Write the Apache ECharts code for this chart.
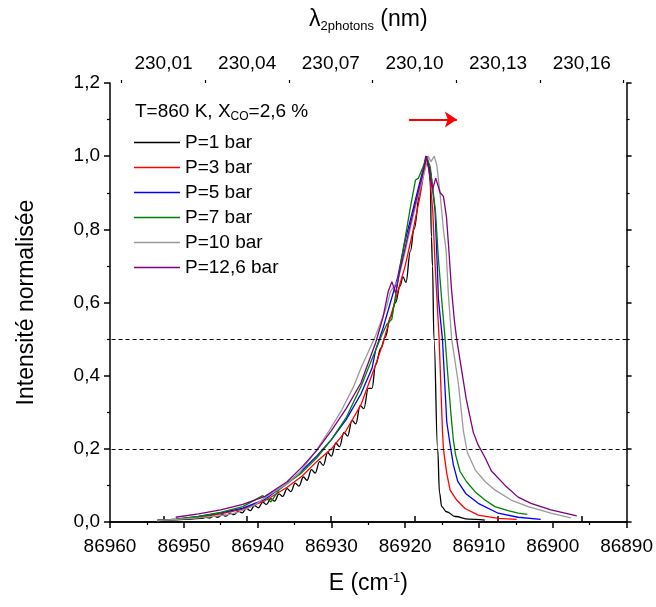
<!DOCTYPE html>
<html>
<head>
<meta charset="utf-8">
<script src="https://cdn.jsdelivr.net/npm/echarts@6/dist/echarts.min.js"></script>
<style>
html,body{margin:0;padding:0;background:#fff;}
#chart{width:656px;height:607px;}
</style>
</head>
<body>
<div id="chart"></div>
<script>
// ---- data ----
const seriesNames = ['P=1 bar', 'P=3 bar', 'P=5 bar', 'P=7 bar', 'P=10 bar', 'P=12,6 bar'];
const seriesColors = ['#000000', '#ff0000', '#0000ff', '#008000', '#9a9a9a', '#800080'];

const p1 = [[86953.6,0.005],[86951.0,0.006],[86949.0,0.008],[86947.6,0.010],[86947.0,0.013],[86946.5,0.011],[86945.9,0.016],[86945.4,0.013],[86944.8,0.020],[86944.3,0.016],[86943.7,0.024],[86943.2,0.020],[86942.6,0.030],[86942.1,0.025],[86941.5,0.037],[86941.0,0.031],[86940.4,0.045],[86939.9,0.039],[86939.3,0.054],[86938.8,0.048],[86938.2,0.064],[86937.7,0.057],[86937.1,0.077],[86936.6,0.070],[86936.0,0.091],[86935.5,0.083],[86934.9,0.106],[86934.4,0.098],[86933.8,0.123],[86933.3,0.114],[86932.7,0.143],[86932.2,0.134],[86931.6,0.165],[86931.1,0.155],[86930.5,0.190],[86930.0,0.180],[86929.4,0.216],[86928.9,0.206],[86928.3,0.245],[86927.8,0.235],[86927.2,0.278],[86926.7,0.268],[86926.1,0.318],[86925.6,0.310],[86925.0,0.365],[86924.5,0.365],[86924.0,0.43],[86923.3,0.475],[86922.7,0.505],[86922.0,0.56],[86921.3,0.60],[86920.7,0.645],[86920.3,0.67],[86919.9,0.655],[86919.3,0.74],[86918.8,0.80],[86918.0,0.90],[86917.5,0.96],[86917.2,1.0],[86916.8,0.97],[86916.6,0.93],[86916.45,0.78],[86916.3,0.70],[86916.1,0.50],[86915.6,0.20],[86915.35,0.08],[86915.05,0.042],[86914.4,0.028],[86913.2,0.015],[86911.4,0.008],[86909.2,0.005]];
const p3 = [[86953.6,0.004],[86951,0.007],[86948,0.013],[86945,0.022],[86942,0.035],[86939,0.058],[86936,0.095],[86934,0.125],[86932,0.165],[86930,0.20],[86928,0.25],[86926,0.32],[86924,0.43],[86923,0.49],[86922,0.56],[86921,0.63],[86920,0.70],[86919,0.79],[86918,0.89],[86917.1,1.0],[86916.7,0.95],[86916.26,0.85],[86915.94,0.70],[86915.4,0.50],[86914.95,0.25],[86914.82,0.20],[86914.37,0.133],[86913.91,0.087],[86913.02,0.06],[86911.89,0.037],[86910.1,0.019],[86907.4,0.010],[86904.9,0.007]];
const p5 = [[86953.6,0.004],[86951,0.008],[86948,0.015],[86945,0.025],[86942,0.038],[86939,0.062],[86936,0.105],[86934,0.14],[86932,0.18],[86930,0.225],[86928,0.28],[86926,0.35],[86924.5,0.42],[86924,0.47],[86923,0.53],[86922,0.60],[86921,0.67],[86920,0.77],[86919,0.85],[86918,0.93],[86917.1,1.0],[86916.5,0.95],[86915.95,0.85],[86915.65,0.70],[86915.5,0.61],[86914.95,0.50],[86914.37,0.274],[86913.91,0.211],[86913.47,0.156],[86912.89,0.112],[86911.81,0.078],[86910.1,0.051],[86907.4,0.024],[86904.7,0.013],[86901.64,0.007]];
const p7 = [[86953.6,0.004],[86951,0.008],[86948,0.015],[86945,0.026],[86942,0.042],[86939.3,0.072],[86938.2,0.055],[86937.1,0.088],[86936,0.105],[86934,0.135],[86932,0.175],[86930,0.225],[86928,0.285],[86926,0.37],[86925,0.42],[86924,0.47],[86923.2,0.51],[86922.5,0.54],[86921.8,0.555],[86921.3,0.62],[86920.5,0.72],[86919.8,0.80],[86919.3,0.86],[86918.6,0.935],[86918.2,0.94],[86917.6,0.97],[86917.1,1.0],[86916.6,0.97],[86915.9,0.85],[86915.5,0.72],[86915.05,0.607],[86914.59,0.50],[86914.14,0.38],[86913.78,0.29],[86913.47,0.224],[86913.16,0.183],[86912.57,0.138],[86911.68,0.11],[86910.54,0.083],[86909.19,0.06],[86907.85,0.042],[86906.05,0.031],[86904.7,0.024],[86903.45,0.021]];
const p10 = [[86953.6,0.004],[86951,0.007],[86948,0.011],[86945.6,0.016],[86944,0.020],[86942.5,0.028],[86940.5,0.045],[86938.9,0.068],[86936,0.105],[86934.4,0.133],[86933,0.17],[86931.7,0.206],[86930.3,0.25],[86928.6,0.306],[86927,0.37],[86926,0.42],[86924,0.51],[86922.5,0.59],[86922,0.63],[86921,0.66],[86920,0.74],[86919,0.83],[86918,0.91],[86917.2,0.97],[86916.9,1.0],[86916.5,0.985],[86916.07,1.0],[86915.72,0.976],[86915.26,0.894],[86914.82,0.80],[86914.45,0.74],[86914.14,0.62],[86913.7,0.50],[86912.8,0.38],[86912.12,0.25],[86911.58,0.19],[86910.5,0.142],[86909.15,0.11],[86907.81,0.087],[86905.65,0.06],[86903.35,0.042],[86900.25,0.024],[86897.55,0.011]];
const p12 = [[86951.1,0.013],[86948,0.022],[86945,0.033],[86942,0.048],[86939,0.07],[86936,0.11],[86934,0.15],[86932,0.195],[86930,0.25],[86928,0.31],[86926,0.38],[86924,0.49],[86923,0.56],[86922.3,0.63],[86921.8,0.657],[86921.3,0.625],[86920.8,0.68],[86920,0.75],[86919,0.84],[86918,0.92],[86917.1,1.0],[86916.3,0.908],[86915.86,0.94],[86915.26,0.90],[86914.82,0.89],[86914.41,0.835],[86914.14,0.76],[86913.74,0.64],[86913.33,0.55],[86913.02,0.50],[86912.39,0.42],[86911.72,0.335],[86910.77,0.245],[86910.1,0.21],[86909.15,0.175],[86908.34,0.14],[86906.46,0.10],[86904.7,0.068],[86902.95,0.051],[86900.25,0.033],[86896.75,0.017]];
const allSeries = [p1, p3, p5, p7, p10, p12];

const eMin = 86890, eMax = 86960, eStep = 10;
const yMin = 0, yMax = 1.2, yStep = 0.2;
const lambdaTicks = [230.01, 230.04, 230.07, 230.10, 230.13, 230.16];
const lambdaMinorTicks = [229.995, 230.025, 230.055, 230.085, 230.115, 230.145, 230.175];
const refLevels = [0.5, 0.2];
const arrowE = [86919.5, 86913.0];
const arrowY = 1.1;

// ---- chart ----
const FONT = '"Liberation Sans", Arial, sans-serif';
const lamMin = 2e7 / eMax, lamMax = 2e7 / eMin;
const axisLine = { show: true, lineStyle: { color: '#000', width: 1.5 } };

const chart = echarts.init(document.getElementById('chart'), null, { renderer: 'canvas' });

const series = allSeries.map((d, i) => ({
  type: 'line',
  name: seriesNames[i],
  data: d,
  xAxisIndex: 0,
  yAxisIndex: 0,
  symbol: 'none',
  smooth: i === 0 ? 0.4 : false,
  smoothMonotone: 'x',
  lineStyle: { color: seriesColors[i], width: 1.3 },
  itemStyle: { color: seriesColors[i] },
  emphasis: { disabled: true },
  z: 3
}));

series[0].markLine = {
  silent: true,
  animation: false,
  symbol: ['none', 'none'],
  label: { show: false },
  lineStyle: { color: '#000', type: [4, 3], width: 1 },
  data: refLevels.map(v => ({ yAxis: v })).concat([[
    { coord: [arrowE[0], arrowY], symbol: 'none', lineStyle: { color: '#ff0000', type: 'solid', width: 2 } },
    { coord: [arrowE[1], arrowY], symbol: 'arrow', symbolSize: 12 }
  ]])
};

const option = {
  animation: false,
  textStyle: { fontFamily: FONT },
  grid: { left: 110, right: 27, top: 83, bottom: 85, containLabel: false },
  title: {
    text: 'T=860 K, X{sub|CO}=2,6 %',
    left: 135, top: 101, padding: 0,
    textStyle: {
      fontSize: 19, fontWeight: 'normal', color: '#000', fontFamily: FONT, lineHeight: 22,
      rich: { sub: { fontSize: 12, lineHeight: 13, padding: [9, 0, 0, 0], color: '#000', fontFamily: FONT } }
    }
  },
  legend: {
    data: seriesNames,
    orient: 'vertical',
    left: 134, top: 133, padding: 0,
    icon: 'path://M0,0H46V1.6H0Z',
    itemWidth: 46, itemHeight: 1.6, itemGap: 6,
    textStyle: { fontSize: 19, color: '#000', fontFamily: FONT, lineHeight: 19 },
    selectedMode: false
  },
  xAxis: [
    {
      type: 'value', position: 'bottom', min: eMin, max: eMax, interval: eStep, inverse: true,
      axisLine, splitLine: { show: false },
      axisTick: { show: true, length: 6, lineStyle: { color: '#000', width: 1.5 } },
      minorTick: { show: true, splitNumber: 2, length: 3, lineStyle: { color: '#000', width: 1.2 } },
      axisLabel: { fontSize: 19, color: '#000', margin: 15, fontFamily: FONT, formatter: v => String(v) },
      name: '{t|E (cm}{p|-1}{t|)}', nameLocation: 'middle', nameGap: 49,
      nameTextStyle: {
        fontSize: 23, color: '#000', fontFamily: FONT,
        rich: {
          t: { fontSize: 23, lineHeight: 26, color: '#000', fontFamily: FONT },
          p: { fontSize: 13, lineHeight: 14, padding: [0, 0, 12, 0], color: '#000', fontFamily: FONT }
        }
      }
    },
    {
      type: 'value', position: 'top', min: lamMin, max: lamMax,
      axisLine, splitLine: { show: false },
      axisTick: { show: true, length: 6, customValues: lambdaTicks, lineStyle: { color: '#000', width: 1.5 } },
      axisLabel: { show: true, customValues: lambdaTicks, fontSize: 19, color: '#000', margin: 10, fontFamily: FONT,
        formatter: v => v.toFixed(2).replace('.', ',') },
      name: '{l|λ}{s|2photons}{l| (nm)}', nameLocation: 'middle', nameGap: 50,
      nameTextStyle: {
        fontSize: 23, color: '#000', fontFamily: FONT,
        rich: {
          l: { fontSize: 23, lineHeight: 26, color: '#000', fontFamily: FONT },
          s: { fontSize: 13, lineHeight: 14, padding: [12, 0, 0, 0], color: '#000', fontFamily: FONT }
        }
      }
    },
    {
      type: 'value', position: 'top', min: lamMin, max: lamMax,
      axisLine: { show: false }, splitLine: { show: false },
      axisTick: { show: true, length: 3, customValues: lambdaMinorTicks, lineStyle: { color: '#000', width: 1.2 } },
      axisLabel: { show: false }
    }
  ],
  yAxis: [
    {
      type: 'value', position: 'left', min: yMin, max: yMax, interval: yStep,
      axisLine, splitLine: { show: false },
      axisTick: { show: true, length: 6, lineStyle: { color: '#000', width: 1.5 } },
      minorTick: { show: true, splitNumber: 2, length: 3, lineStyle: { color: '#000', width: 1.2 } },
      axisLabel: { fontSize: 19, color: '#000', margin: 10, fontFamily: FONT,
        formatter: v => v.toFixed(1).replace('.', ',') },
      name: 'Intensité normalisée', nameLocation: 'middle', nameGap: 72, nameRotate: 90,
      nameTextStyle: { fontSize: 23, color: '#000', fontFamily: FONT }
    },
    {
      type: 'value', position: 'right', min: yMin, max: yMax, interval: yStep,
      axisLine, splitLine: { show: false },
      axisTick: { show: true, length: 5, lineStyle: { color: '#000', width: 1.5 } },
      minorTick: { show: true, splitNumber: 2, length: 3, lineStyle: { color: '#000', width: 1.2 } },
      axisLabel: { show: false }
    }
  ],
  series
};

chart.setOption(option);
</script>
</body>
</html>
